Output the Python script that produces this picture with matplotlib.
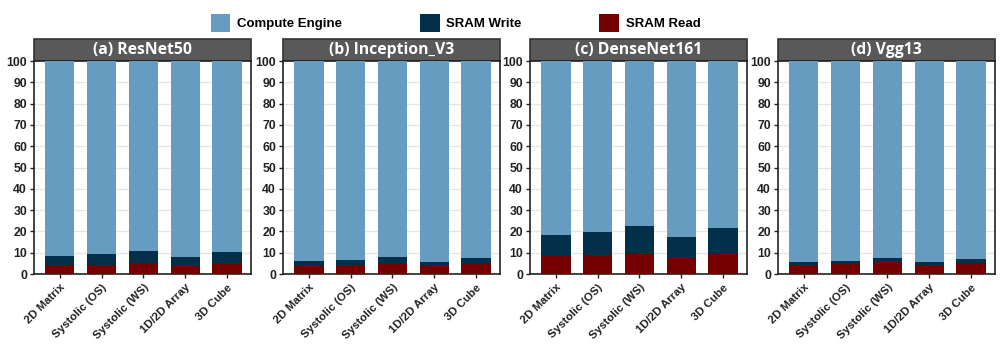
import matplotlib
matplotlib.use("Agg")
import matplotlib.pyplot as plt
from matplotlib.patches import Rectangle, Patch
import numpy as np

categories = ["2D Matrix", "Systolic (OS)", "Systolic (WS)", "1D/2D Array", "3D Cube"]
models = ["(a) ResNet50", "(b) Inception_V3", "(c) DenseNet161", "(d) Vgg13"]

# SRAM Read share (%)
sram_read = {
    "(a) ResNet50":     [4.1, 4.2, 5.2, 3.9, 5.0],
    "(b) Inception_V3": [3.9, 4.2, 4.9, 3.8, 4.7],
    "(c) DenseNet161":  [8.3, 8.9, 9.9, 7.7, 9.3],
    "(d) Vgg13":        [4.4, 4.7, 5.7, 4.1, 5.3],
}
# SRAM Write share (%)
sram_write = {
    "(a) ResNet50":     [4.5, 5.2, 5.6, 4.1, 5.2],
    "(b) Inception_V3": [2.4, 2.5, 3.1, 2.0, 2.8],
    "(c) DenseNet161":  [10.2, 11.0, 12.7, 9.7, 12.4],
    "(d) Vgg13":        [1.4, 1.6, 1.7, 1.4, 1.9],
}
# Compute Engine share (%)
compute = {m: [100 - r - w for r, w in zip(sram_read[m], sram_write[m])] for m in models}

c_compute = "#659CBF"
c_write = "#022F49"
c_read = "#740000"

fig = plt.figure(figsize=(10.08, 3.46), dpi=100)
lefts = [0.0337, 0.2808, 0.5258, 0.7718]
bottom, height, width = 0.208, 0.6156, 0.2155

tick_font = dict(family="Liberation Sans", weight="bold")
x = np.arange(len(categories))
for left, m in zip(lefts, models):
    ax = fig.add_axes([left, bottom, width, height])
    r = np.array(sram_read[m]); w = np.array(sram_write[m]); c = np.array(compute[m])
    ax.bar(x, r, 0.7, color=c_read, zorder=3)
    ax.bar(x, w, 0.7, bottom=r, color=c_write, zorder=3)
    ax.bar(x, c, 0.7, bottom=r + w, color=c_compute, zorder=3)
    ax.set_ylim(0, 100)
    ax.set_xlim(-0.62, 4.58)
    ax.set_yticks(range(0, 101, 10))
    ax.yaxis.grid(True, color="#e6e6e6", lw=1, zorder=0)
    ax.set_xticks(x)
    ax.set_xticklabels(categories, rotation=45, ha="right", rotation_mode="anchor",
                       fontsize=8.2, **tick_font)
    for lab in ax.get_yticklabels():
        lab.set_fontsize(8.8); lab.set_fontfamily("Liberation Sans"); lab.set_fontweight("bold")
    ax.tick_params(axis="both", length=3, width=1, pad=2, colors="#222222")
    ax.tick_params(axis="x", pad=3)
    for s in ax.spines.values():
        s.set_linewidth(1.2); s.set_color("#222222")
    hbox = 22 / 213
    ax.add_patch(Rectangle((0, 1), 1, hbox, transform=ax.transAxes, clip_on=False,
                           facecolor="#595959", edgecolor="#333333", lw=1.2))
    ax.text(0.5, 1 + hbox / 2, m, transform=ax.transAxes, ha="center", va="center",
            color="white", fontsize=11.3, fontweight="bold", family="Open Sans")

handles = [Patch(facecolor=c_compute, label="Compute Engine"),
           Patch(facecolor=c_write, label="SRAM Write"),
           Patch(facecolor=c_read, label="SRAM Read")]
fig.legend(handles=handles, loc="center", bbox_to_anchor=(0.452, 0.933), ncol=3, frameon=False,
           prop=dict(family="Liberation Sans", weight="bold", size=9.5),
           handlelength=1.5, handleheight=1.7, columnspacing=5.9, handletextpad=0.5)

fig.savefig("out.png", dpi=100)
